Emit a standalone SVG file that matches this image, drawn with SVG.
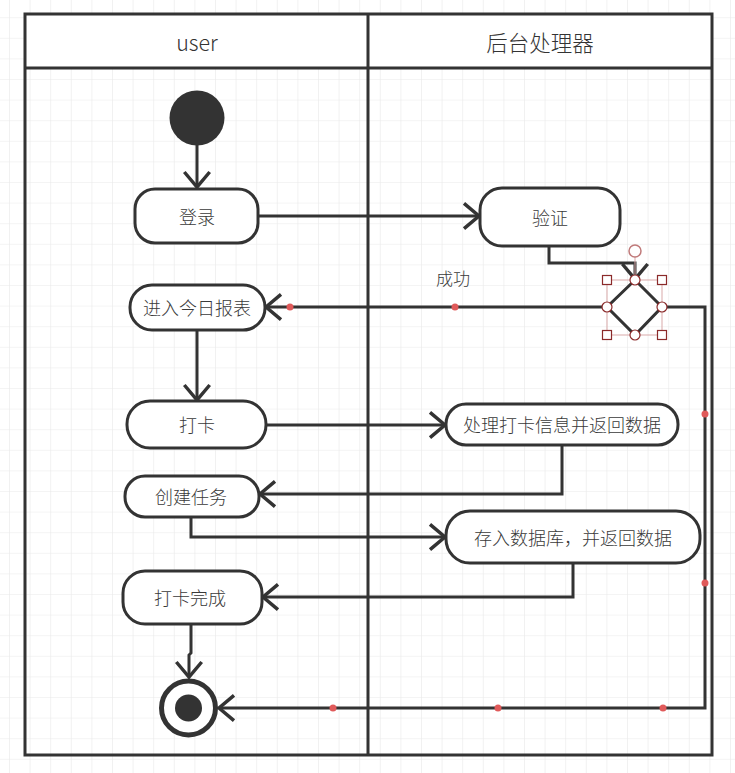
<svg xmlns="http://www.w3.org/2000/svg" width="735" height="773" viewBox="0 0 735 773">
<style>
.node{fill:#fff;stroke:#333;stroke-width:3}
.lbl{font-family:"Noto Sans CJK SC","Liberation Sans",sans-serif;font-size:18px;font-weight:300;fill:#3a3a3a;text-anchor:middle;dominant-baseline:central}
.hdr{font-family:"Noto Sans CJK SC","Liberation Sans",sans-serif;font-size:21.5px;font-weight:300;fill:#333;text-anchor:middle;dominant-baseline:central}
.edge{fill:none;stroke:#333;stroke-width:3;stroke-linejoin:miter}
.lane{fill:none;stroke:#333;stroke-width:3}
.dot{fill:#e05a5a}
.hsq{fill:#fff;stroke:#8b2a2a;stroke-width:1.2}
</style>
<defs>
<pattern id="grid" x="9" y="17.2" width="20.6" height="20.6" patternUnits="userSpaceOnUse">
<path d="M0,0 H20.6 M0,0 V20.6" fill="none" stroke="#e9e9e9" stroke-width="1.2"/>
</pattern>
<marker id="arr" markerUnits="userSpaceOnUse" markerWidth="30" markerHeight="30" viewBox="-16 -13 20 26" refX="0" refY="0" orient="auto">
<path d="M-13,-11 L0,0 L-13,11" fill="none" stroke="#333" stroke-width="3"/>
</marker>
</defs>
<rect width="735" height="773" fill="#fff"/>
<rect width="735" height="773" fill="url(#grid)"/>

<g id="lanes">
<rect x="25" y="14" width="687" height="54" fill="#fff"/>
<rect x="25" y="14" width="687" height="741" class="lane"/>
<line x1="25" y1="68" x2="712" y2="68" class="lane"/>
<line x1="368" y1="14" x2="368" y2="755" class="lane"/>
<text x="197" y="41" class="hdr">user</text>
<text x="540" y="41" class="hdr">后台处理器</text>
</g>

<g id="connectors">
<path d="M197,145 V187" class="edge" marker-end="url(#arr)"/>
<path d="M258,216 H479" class="edge" marker-end="url(#arr)"/>
<path d="M549,246 V263 H635 V279" class="edge" marker-end="url(#arr)"/>
<path d="M607,307 H266" class="edge" marker-end="url(#arr)"/>
<text x="453" y="277" class="lbl" style="font-size:17px">成功</text>
<path d="M662,307 H705 V708 H219" class="edge" marker-end="url(#arr)"/>
<path d="M197,330 V400" class="edge" marker-end="url(#arr)"/>
<path d="M266,425 H445" class="edge" marker-end="url(#arr)"/>
<path d="M562,445 V494 H260" class="edge" marker-end="url(#arr)"/>
<path d="M191,517 V537 H445" class="edge" marker-end="url(#arr)"/>
<path d="M573,563 V597 H263" class="edge" marker-end="url(#arr)"/>
<path d="M191,624 V653 L189,655 V677" class="edge" marker-end="url(#arr)"/>
</g>

<g id="start"><circle cx="197" cy="118" r="27.5" fill="#333"/></g>
<g id="login"><rect x="135" y="189" width="123" height="54" rx="20" class="node"/><text x="197" y="216" class="lbl">登录</text></g>
<g id="verify"><rect x="480" y="188" width="140" height="58" rx="22" class="node"/><text x="550" y="217" class="lbl">验证</text></g>
<g id="decision">
<polygon points="635,280 662,307 635,335 607,307" fill="#fff" stroke="#333" stroke-width="3"/>
</g>
<g id="report"><rect x="130" y="285" width="135" height="45" rx="22" class="node"/><text x="197" y="307" class="lbl">进入今日报表</text></g>
<g id="checkin"><rect x="127" y="401" width="139" height="47" rx="23" class="node"/><text x="197" y="424" class="lbl">打卡</text></g>
<g id="process"><rect x="446" y="404" width="232" height="41" rx="20" class="node"/><text x="562" y="424" class="lbl">处理打卡信息并返回数据</text></g>
<g id="task"><rect x="125" y="476" width="134" height="41" rx="20" class="node"/><text x="191" y="496" class="lbl">创建任务</text></g>
<g id="store"><rect x="446" y="511" width="254" height="52" rx="24" class="node"/><text x="573" y="537" class="lbl">存入数据库，并返回数据</text></g>
<g id="done"><rect x="123" y="571" width="139" height="53" rx="22" class="node"/><text x="190" y="597" class="lbl">打卡完成</text></g>
<g id="end">
<circle cx="188.5" cy="708" r="27" fill="#fff" stroke="#333" stroke-width="5"/>
<circle cx="188.5" cy="708" r="13.5" fill="#333"/>
</g>

<g id="selection">
<line x1="635" y1="257" x2="635" y2="280" stroke="#d9a9a9" stroke-width="1"/>
<rect x="607" y="280" width="55" height="55" fill="none" stroke="#d9a9a9" stroke-width="1"/>
<circle cx="635" cy="251" r="6" fill="#fff" stroke="#c07a7a" stroke-width="1.5"/>
<rect x="602.5" y="275.5" width="9" height="9" class="hsq"/>
<rect x="657.5" y="275.5" width="9" height="9" class="hsq"/>
<rect x="602.5" y="330.5" width="9" height="9" class="hsq"/>
<rect x="657.5" y="330.5" width="9" height="9" class="hsq"/>
<circle cx="635" cy="280" r="5" class="hsq"/>
<circle cx="607" cy="307" r="5" class="hsq"/>
<circle cx="662" cy="307" r="5" class="hsq"/>
<circle cx="635" cy="335" r="5" class="hsq"/>
<circle cx="290" cy="307" r="3.5" class="dot"/>
<circle cx="455" cy="307" r="3.5" class="dot"/>
<circle cx="705" cy="414" r="3.5" class="dot"/>
<circle cx="705" cy="583" r="3.5" class="dot"/>
<circle cx="663" cy="708" r="3.5" class="dot"/>
<circle cx="498" cy="708" r="3.5" class="dot"/>
<circle cx="333" cy="708" r="3.5" class="dot"/>
</g>
</svg>
